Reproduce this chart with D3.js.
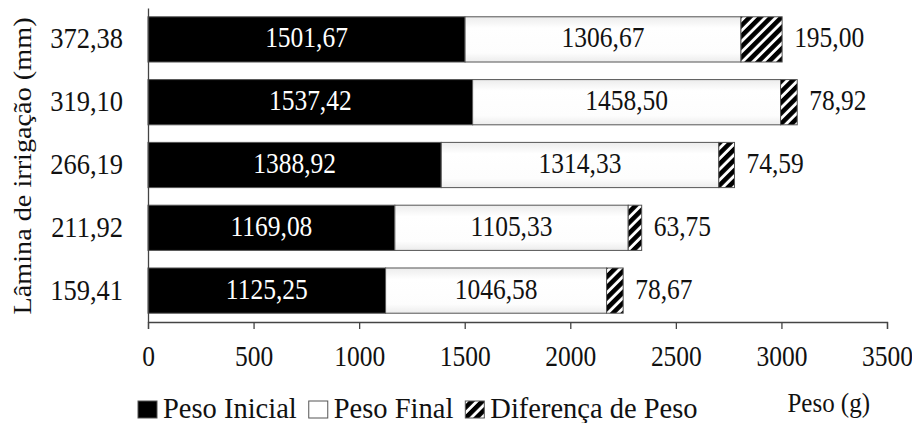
<!DOCTYPE html>
<html>
<head>
<meta charset="utf-8">
<script src="https://cdn.jsdelivr.net/npm/d3@7/dist/d3.min.js"></script>
<style>
  body { margin: 0; background: #fff; }
  svg text { font-family: "Liberation Serif", "Times New Roman", serif; }
</style>
</head>
<body>
<svg id="chart"></svg>
<script>
// DATA
const laminas = ["159,41", "211,92", "266,19", "319,10", "372,38"];
const pesoInicial = [1125.25, 1169.08, 1388.92, 1537.42, 1501.67];
const pesoFinal = [1046.58, 1105.33, 1314.33, 1458.50, 1306.67];
const diferenca = [78.67, 63.75, 74.59, 78.92, 195.00];
const xTicks = [0, 500, 1000, 1500, 2000, 2500, 3000, 3500];
const seriesNames = ["Peso Inicial", "Peso Final", "Diferença de Peso"];

const width = 912, height = 423;
const margin = { top: 8, right: 25, bottom: 101, left: 148 };

const fmt = v => v.toFixed(2).replace(".", ",");

const svg = d3.select("#chart").attr("width", width).attr("height", height);

// hatch pattern + light gradient for the white segment
const defs = svg.append("defs");
defs.append("pattern")
  .attr("id", "hatch")
  .attr("patternUnits", "userSpaceOnUse")
  .attr("width", 7.5).attr("height", 7.5)
  .attr("patternTransform", "rotate(45)")
  .call(p => {
    p.append("rect").attr("width", 7.5).attr("height", 7.5).attr("fill", "#fff");
    p.append("rect").attr("width", 4.6).attr("height", 7.5).attr("fill", "#000");
  });
const grad = defs.append("linearGradient").attr("id", "whiteGrad")
  .attr("x1", 0).attr("y1", 0).attr("x2", 0).attr("y2", 1);
grad.append("stop").attr("offset", "0%").attr("stop-color", "#ececec");
grad.append("stop").attr("offset", "25%").attr("stop-color", "#ffffff");
grad.append("stop").attr("offset", "80%").attr("stop-color", "#fdfdfd");
grad.append("stop").attr("offset", "100%").attr("stop-color", "#ececec");

const fills = ["#000", "url(#whiteGrad)", "url(#hatch)"];

// SCALES
const xScale = d3.scaleLinear()
  .domain([0, 3500])
  .range([margin.left, width - margin.right]);

const yScale = d3.scaleBand()
  .domain(laminas.slice().reverse())
  .range([margin.top, height - margin.bottom])
  .paddingInner(0.28)
  .paddingOuter(0.14);

// stacked table built from the arrays
const rows = laminas.map((l, i) => ({ lamina: l, ini: pesoInicial[i], fin: pesoFinal[i], dif: diferenca[i] }));
const stack = d3.stack().keys(["ini", "fin", "dif"])(rows);

// BARS
svg.append("g").selectAll("g")
  .data(stack)
  .join("g")
  .attr("fill", (d, i) => fills[i])
  .selectAll("rect")
  .data(d => d)
  .join("rect")
  .attr("x", d => xScale(d[0]))
  .attr("y", d => yScale(d.data.lamina))
  .attr("width", d => xScale(d[1]) - xScale(d[0]))
  .attr("height", yScale.bandwidth())
  .attr("stroke", "#555")
  .attr("stroke-width", 1);

// text helper: slightly tall letters like the reference
const sy = 1.13;
function stretchText(sel, x, y, k = sy) {
  return sel.attr("transform", `translate(${x},${y}) scale(1,${k})`);
}

// BAR LABELS
const labels = svg.append("g").attr("font-size", 25.5);
rows.forEach(r => {
  const yc = yScale(r.lamina) + yScale.bandwidth() / 2 + 8;
  labels.append("text")
    .call(stretchText, (xScale(0) + xScale(r.ini)) / 2, yc)
    .attr("text-anchor", "middle").attr("fill", "#fff")
    .text(fmt(r.ini));
  labels.append("text")
    .call(stretchText, (xScale(r.ini) + xScale(r.ini + r.fin)) / 2, yc)
    .attr("text-anchor", "middle").attr("fill", "#111")
    .text(fmt(r.fin));
  labels.append("text")
    .call(stretchText, xScale(r.ini + r.fin + r.dif) + 12, yc)
    .attr("text-anchor", "start").attr("fill", "#111")
    .text(fmt(r.dif));
});

// AXES
const axisColor = "#444";
const xAxis = svg.append("g")
  .attr("transform", `translate(0,${height - margin.bottom})`)
  .call(d3.axisBottom(xScale).tickValues(xTicks).tickSize(7).tickSizeOuter(7).tickFormat(d => d));
xAxis.select(".domain").attr("stroke", axisColor).attr("stroke-width", 1.3);
xAxis.selectAll(".tick line").attr("stroke", axisColor).attr("stroke-width", 1.3);
xAxis.selectAll(".tick text").remove();
xAxis.selectAll(".tick").append("text")
  .call(stretchText, 0, 44)
  .attr("text-anchor", "middle").attr("fill", "#111")
  .attr("font-size", 25.5)
  .text(d => d);

const yAxis = svg.append("g")
  .attr("transform", `translate(${margin.left},0)`)
  .call(d3.axisLeft(yScale).tickSize(0).tickSizeOuter(0));
yAxis.select(".domain").attr("stroke", axisColor).attr("stroke-width", 1.3);
yAxis.selectAll(".tick text").remove();
yAxis.selectAll(".tick").append("text")
  .call(stretchText, -25, 9)
  .attr("text-anchor", "end").attr("fill", "#111")
  .attr("font-size", 26.5)
  .text(d => d);

// AXIS TITLES
svg.append("text")
  .attr("transform", `translate(31,166) rotate(-90) scale(${sy},1)`)
  .attr("text-anchor", "middle").attr("fill", "#111")
  .attr("font-size", 25)
  .text("Lâmina de irrigação (mm)");

svg.append("text")
  .call(stretchText, 870, 412)
  .attr("text-anchor", "end").attr("fill", "#111")
  .attr("font-size", 25)
  .text("Peso (g)");

// LEGEND
const legend = svg.append("g");
let lx = 138;
seriesNames.forEach((name, i) => {
  legend.append("rect")
    .attr("x", lx).attr("y", 401).attr("width", 19).attr("height", 17)
    .attr("fill", i === 1 ? "#fff" : fills[i])
    .attr("stroke", "#555").attr("stroke-width", 1);
  const t = legend.append("text")
    .call(stretchText, lx + 25, 418, 1.05)
    .attr("fill", "#111").attr("font-size", 28.5)
    .text(name);
  lx += 25 + t.node().getComputedTextLength() + 12;
});
</script>
</body>
</html>
